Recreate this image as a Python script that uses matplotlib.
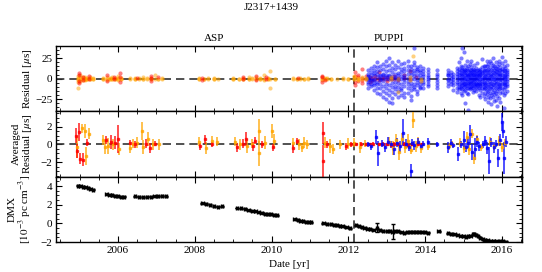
import matplotlib
matplotlib.use("Agg")
import matplotlib.pyplot as plt
import numpy as np
from matplotlib.ticker import AutoMinorLocator, MultipleLocator
from matplotlib.transforms import blended_transform_factory

plt.rcParams["font.family"] = ["Liberation Serif", "DejaVu Serif"]
plt.rcParams["mathtext.fontset"] = "stix"
plt.rcParams["font.size"] = 8
plt.rcParams["axes.unicode_minus"] = True

ORANGE = "#FFA500"
RED = "#FF0000"
BLUE = "#0000FF"

# ---- top panel: raw residuals (us), per epoch ----
asp_l_epochs = [2004.96, 2005.02, 2005.08, 2005.14, 2005.2, 2005.27, 2005.35,
                2005.62, 2005.7, 2005.78, 2005.85, 2005.92, 2006.0, 2006.08,
                2006.3, 2006.45, 2006.55, 2006.65, 2006.75, 2006.85, 2006.95, 2007.05, 2007.15,
                2008.1, 2008.25, 2008.35, 2008.5, 2008.6,
                2009.0, 2009.15, 2009.25, 2009.4, 2009.5, 2009.6, 2009.7, 2009.8, 2009.9, 2009.97, 2010.08,
                2010.55, 2010.65, 2010.75, 2010.85, 2010.95,
                2011.3, 2011.38, 2011.45, 2011.55, 2011.7, 2011.85, 2012.0]
asp_l_res = [[0, -2, 3, -4, 1, -12], [-1, 2, -3, 0, 4], [1, -2, 0, 2], [0, -1, 2, -2],
             [1, 0, -1], [0, 2, -1, 1], [0, -1, 1],
             [0, 1, -1], [0, -2, 2], [1, -1, 0], [0, 2, -1], [-1, 1, 0], [0, 1, -2, 3], [0, -1, 1],
             [0, 1], [0, -1, 1], [1, 0], [0, -1, 2], [0, 1], [-1, 0, 1], [0, 5], [0, -1], [0, 1],
             [0, 1, -1], [0, -1], [1, 0], [0, -1, 1], [0],
             [0, 1, -1], [0, -1], [1, 0, -1], [0, 2, -1], [0, 1], [-1, 0, 2], [0, 1, -1],
             [0, 4, -2], [1, -1, 0], [0, 9, -12], [0, -1],
             [0, 1], [-1, 0], [0, 1], [0, -1], [0, 1],
             [0, 2, -2], [1, -1, 0], [0, 1], [0, -1], [0], [0, 1], [0, -1]]

asp_r_epochs = [2004.98, 2005.1, 2005.25, 2005.7, 2005.9, 2006.05, 2006.5, 2006.85, 2007.05,
                2008.2, 2009.25, 2009.6, 2009.85, 2010.7, 2011.32, 2011.4]
asp_r_res = [[4, -3, 7, -5], [2, -2], [3, -1], [4, -3], [2, -1], [7, -4, 2], [1], [3, -3, 1], [2],
             [-2, 1], [0, 2], [3, -2], [-1, 2], [1], [3, -4, 2], [-2]]

puppi_r_epochs = [2012.17, 2012.25, 2012.35, 2012.45, 2012.55, 2012.62, 2012.7, 2012.8, 2012.9,
                  2013.0, 2013.1, 2013.2, 2013.3, 2013.45, 2013.6, 2013.75]
puppi_r_res = [[3, -4, 8, -8], [2, -3, 5], [1, -2, 12, -5], [3, -1], [2, -4], [-2, 1], [0, 3],
               [1, -2, 8], [-1, 2], [0, 2, -3], [1, -1], [0, 3], [-2, 1], [1, 5], [-1, 9], [2]]

puppi_o_epochs = [2012.15, 2012.25, 2012.35, 2012.45, 2013.1, 2013.3, 2013.6, 2013.68, 2013.9]
puppi_o_res = [[0, 2, -1, 3], [1, -2, 0], [0, 2], [-1, 1], [-1, 2], [-16, 0], [2, -2], [28], [0, -3]]

puppi_l_epochs = [2012.5, 2012.58, 2012.66, 2012.74, 2012.82, 2012.9, 2012.98, 2013.06, 2013.14,
                  2013.22, 2013.3, 2013.38, 2013.46, 2013.54, 2013.62, 2013.7, 2013.78, 2013.86,
                  2013.94, 2014.07, 2014.31, 2014.6, 2014.66, 2014.72,
                  2014.84, 2014.88, 2014.92, 2014.96, 2015.0, 2015.04, 2015.08, 2015.12, 2015.16,
                  2015.2, 2015.24, 2015.28, 2015.32, 2015.36, 2015.4, 2015.44, 2015.48, 2015.52,
                  2015.56, 2015.6, 2015.64, 2015.68, 2015.72, 2015.76, 2015.8, 2015.84, 2015.88,
                  2015.92, 2015.96, 2016.0, 2016.04, 2016.08, 2016.12]
puppi_l_res = [
    [0, 3, -4, 6, -7, 10, -12, 2, -1],
    [1, -3, 5, -6, 8, -9, 13, -2],
    [0, -5, 7, -8, 11, -14, 4, -2, 15],
    [2, -4, 9, -11, 14, -17, 20, -6, 6],
    [0, 5, -7, 10, -12, 16, -19, -2, 3],
    [1, -3, 6, -9, 12, -15, 18, -22, 4],
    [0, 4, -6, 9, -12, 15, -18, 22, -25, 2],
    [-1, 5, -8, 11, -14, 17, -20, 25, -28, 3],
    [0, 3, -5, 8, -10, 13, -16, 20, -24, -30],
    [1, -4, 6, -9, 12, -13, 17, -19, 2],
    [0, 4, -5, 7, -10, 14, -15, 21, -22, -1],
    [-1, 3, -6, 8, -11, 12, -14, 18, -20],
    [0, 5, -4, 9, -9, 13, -17, 19, -23, 2],
    [1, -3, 6, -7, 10, -12, 15, -18, 22],
    [0, 4, -5, 8, -9, 12, -14, 16, -21, -26],
    [-1, 3, -6, 7, -10, 11, -13, 17, 20, 38],
    [0, 5, -4, 9, -8, 12, -15, 14, -19],
    [1, -3, 4, -6, 8, -10, 11, -12, 16],
    [0, 3, -4, 6, -7, 9, -11, 13],
    [0, 2, -3, 5, -6, 8, -9, 12],
    [0, 3, -4, 6, -8, 10, -12],
    [0, -2, 4, -5, 7, -9, 10, 5],
    [1, -3, 5, -7, 8],
    [0, 2, -4, 6, -8, -14],
    [0, 3, -4, 6, -7, 9, -11, 13, -16],
    [1, -2, 5, -6, 8, -10, 12, -13, 20],
    [0, 4, -5, 7, -9, 10, -12, 15, -18, 25],
    [-1, 3, -4, 6, -8, 11, -13, 14, -20, 38],
    [0, 2, -5, 7, -7, 9, -10, 12, -15, 33],
    [1, -3, 4, -6, 8, -9, 11, -14, 17, -30],
    [0, 4, -3, 6, -8, 10, -11, 13, -17, 21],
    [-1, 3, -5, 5, -7, 9, -12, 15, -19, -38],
    [0, 2, -4, 6, -6, 8, -10, 11, -13, 18],
    [1, -3, 5, -5, 7, -9, 10, -12, 14, 22],
    [0, 4, -4, 6, -8, 9, -11, 12, -16],
    [-1, 2, -3, 5, -7, 8, -9, 10, -14, 17],
    [0, 3, -5, 6, -6, 9, -10, 13, -15],
    [1, -2, 4, -7, 7, -8, 11, -12, 19],
    [0, 3, -4, 5, -6, 8, -11, 10, -20],
    [-1, 4, -5, 6, -8, 9, -9, 12, -14, -22],
    [0, 2, -3, 7, -7, 8, -12, 14, -17, 24],
    [1, -4, 5, -6, 9, -10, 11, -13, 16, -21],
    [0, 3, -5, 6, -8, 10, -11, 15, -18, -25],
    [-1, 2, -4, 7, -9, 11, -14, 16, -19, 22],
    [0, 4, -6, 8, -10, 12, -15, 18, -22, -28],
    [1, -3, 5, -7, 9, -12, 14, -17, 21, -24],
    [0, 3, -5, 6, -9, 11, -13, 19, -20, -31],
    [-1, 4, -6, 8, -10, 13, -16, 17, -23, 25],
    [0, 2, -4, 7, -8, 10, -14, 15, -19, -27],
    [1, -3, 6, -7, 9, -11, 13, -18, 20, -26],
    [0, 4, -5, 8, -10, 12, -15, 16, -21, -33],
    [-1, 3, -6, 7, -9, 11, -13, 18, -24, 22],
    [0, 5, -4, 6, -8, 10, -12, 14, -17, -29],
    [1, -2, 4, -6, 9, -11, 12, -16, 19, 26],
    [0, 3, -5, 7, -7, 10, -13, 15, -20, -36],
    [-1, 2, -4, 5, -8, 9, -10, 13, -18, 21],
    [0, 3, -3, 6, -6, 8, -9, 11, -15, 17],
]

# ---- middle panel: epoch-averaged residuals (us) ----
avg_o_t = [2004.94, 2005.05, 2005.14, 2005.17, 2005.25, 2005.6, 2005.65, 2005.75, 2005.86, 2006.03,
           2006.31, 2006.4, 2006.49, 2006.62, 2006.66, 2006.79, 2006.9, 2007.08,
           2008.12, 2008.29, 2008.44, 2008.57,
           2009.05, 2009.18, 2009.37, 2009.48, 2009.66, 2009.68, 2009.83, 2010.0, 2010.06,
           2010.55, 2010.72, 2010.78, 2010.84, 2010.93,
           2011.39, 2011.52, 2011.59, 2011.78, 2012.0,
           2012.15, 2012.3, 2012.42, 2013.05, 2013.15, 2013.25, 2013.32, 2013.4, 2013.48,
           2013.55, 2013.62, 2013.68, 2013.75, 2013.82, 2013.9, 2014.07, 2014.62, 2014.7,
           2014.9, 2015.0, 2015.1, 2015.15, 2015.22, 2015.28, 2015.35, 2015.45, 2015.7,
           2015.8, 2015.92, 2016.0, 2016.08]
avg_o_v = [-0.3, 1.8, 1.5, -1.3, 1.2, 0.5, -0.3, -0.2, 0.0, -0.5,
           -0.4, 0.1, 0.2, 1.5, -0.3, 0.6, 0.0, 0.0,
           0.3, -0.4, 0.4, 0.3,
           0.3, 0.0, -0.2, 0.1, 1.5, -1.0, 0.2, 1.5, 0.4,
           0.2, 0.0, -0.3, 0.2, 0.0,
           0.2, -0.2, -0.5, 0.0, 0.1,
           0.2, -0.3, 0.1, 0.3, -0.4, 0.5, -0.8, 0.6, -0.3,
           0.4, -0.6, 2.7, -0.2, 0.3, -0.4, -0.2, -0.2, 0.1,
           0.2, -0.4, 0.8, -0.5, 1.2, -1.5, 0.6, -0.3, 0.3,
           -0.2, 0.4, -0.3, 0.2]
avg_o_e = [1.2, 0.5, 0.8, 1.0, 0.6, 0.6, 0.8, 0.9, 0.6, 0.7,
           0.6, 0.5, 0.6, 1.0, 0.8, 0.8, 0.6, 0.6,
           0.5, 0.7, 0.6, 0.5,
           0.5, 0.6, 0.8, 0.5, 1.3, 1.4, 0.7, 0.8, 0.8,
           0.5, 0.6, 0.5, 0.6, 0.5,
           0.6, 0.8, 0.6, 0.5, 0.6,
           0.5, 0.6, 0.4, 0.5, 0.8, 0.7, 0.9, 0.7, 0.6,
           0.8, 0.5, 0.9, 0.6, 0.5, 0.6, 0.4, 0.4, 0.3,
           0.5, 0.6, 0.6, 0.7, 0.5, 0.7, 0.5, 0.4, 0.5,
           0.4, 0.6, 0.5, 0.4]

avg_r_t = [2004.9, 2004.92, 2004.98, 2005.0, 2005.09, 2005.18,
           2005.69, 2005.81, 2005.92, 2006.0,
           2006.3, 2006.44, 2006.74, 2006.83, 2006.96,
           2008.13, 2008.26, 2008.46,
           2009.09, 2009.25, 2009.33, 2009.52, 2009.57, 2009.74, 2010.03,
           2010.57, 2010.65,
           2011.33, 2011.34, 2011.43, 2011.95,
           2012.08, 2012.2, 2012.33, 2012.45, 2012.55, 2012.65, 2012.8, 2012.9, 2013.0,
           2013.1, 2013.2, 2013.3, 2013.45, 2013.55, 2013.65, 2013.8, 2013.92]
avg_r_v = [1.0, -0.7, 1.4, -1.6, -1.7, 0.2,
           0.5, 0.3, 0.2, 0.6,
           0.2, 0.0, 0.1, -0.4, 0.1,
           -0.2, 0.6, 0.0,
           -0.3, 0.1, 0.6, -0.2, 0.4, 0.0, -0.3,
           -0.4, 0.4,
           1.3, -1.9, 0.0, -0.2,
           0.0, 0.0, 0.05, 0.0, 0.0, 0.05, 0.0, 0.1, 0.0,
           -0.05, 0.05, 0.0, 0.05, -0.05, 0.0, 0.05, 0.0]
avg_r_e = [0.8, 0.8, 1.0, 0.6, 0.7, 0.4,
           0.5, 0.8, 0.7, 1.6,
           0.3, 0.4, 0.5, 0.6, 0.3,
           0.4, 0.5, 0.3,
           0.5, 0.5, 0.8, 0.5, 0.4, 0.4, 0.4,
           0.5, 0.3,
           1.2, 1.8, 0.4, 0.4,
           0.3, 0.2, 0.2, 0.2, 0.15, 0.2, 0.2, 0.2, 0.2,
           0.15, 0.2, 0.2, 0.2, 0.2, 0.15, 0.2, 0.2]

avg_b_t = [2012.5, 2012.6, 2012.72, 2012.76, 2012.88, 2012.95, 2013.02, 2013.1, 2013.18, 2013.26,
           2013.34, 2013.42, 2013.5, 2013.58, 2013.62, 2013.66, 2013.72, 2013.8, 2013.88, 2013.95,
           2014.07, 2014.31, 2014.6, 2014.66, 2014.72, 2014.86, 2014.92, 2015.0, 2015.05, 2015.12,
           2015.18, 2015.22, 2015.3, 2015.35, 2015.4, 2015.5, 2015.56, 2015.62, 2015.66, 2015.72,
           2015.78, 2015.84, 2015.9, 2015.95, 2016.0, 2016.03, 2016.06, 2016.1]
avg_b_v = [0.0, -0.2, 0.8, -1.0, 0.1, -0.3, 0.3, 0.0, -0.5, 0.2,
           -0.2, 1.3, 0.1, -0.3, -3.0, 0.2, -0.1, 0.3, -0.2, 0.1,
           0.3, 0.0, -0.3, 0.2, -0.1, -1.1, 0.0, 0.5, -0.3, 0.2,
           1.2, -0.8, -0.5, 0.3, -0.2, 0.0, 0.4, -0.4, -1.8, 0.2,
           -0.3, 0.1, -1.5, 0.5, 2.5, 1.5, -1.5, 0.3]
avg_b_e = [0.3, 0.4, 0.8, 1.4, 0.4, 0.5, 0.5, 0.4, 0.7, 0.5,
           0.6, 1.5, 0.5, 0.4, 0.8, 0.4, 0.5, 0.4, 0.3, 0.3,
           0.4, 0.3, 0.6, 0.4, 0.3, 0.8, 0.4, 1.0, 0.5, 0.6,
           1.0, 0.9, 1.2, 0.6, 0.5, 0.4, 0.6, 0.7, 1.5, 0.5,
           0.6, 0.4, 1.0, 0.7, 1.0, 0.8, 1.8, 0.6]

# ---- bottom panel: DMX (1e-3 pc cm^-3) ----
dmx_t = [2004.95, 2005.02, 2005.08, 2005.15, 2005.22, 2005.28, 2005.35,
         2005.7, 2005.78, 2005.85, 2005.92, 2006.0, 2006.08, 2006.15,
         2006.45, 2006.55, 2006.65, 2006.75, 2006.85, 2006.95, 2007.05, 2007.15, 2007.25,
         2008.2, 2008.3, 2008.4, 2008.5, 2008.6, 2008.7,
         2009.1, 2009.2, 2009.3, 2009.4, 2009.5, 2009.58, 2009.66, 2009.74, 2009.82, 2009.9, 2009.98, 2010.06, 2010.14,
         2010.6, 2010.68, 2010.75, 2010.82, 2010.9, 2010.97, 2011.03,
         2011.35, 2011.45, 2011.55, 2011.62, 2011.7, 2011.78, 2011.85, 2011.95, 2012.05,
         2012.2, 2012.27, 2012.35, 2012.42, 2012.5, 2012.57, 2012.65, 2012.75, 2012.82, 2012.9,
         2013.0, 2013.08, 2013.15, 2013.22, 2013.3, 2013.38, 2013.45, 2013.52, 2013.6, 2013.68,
         2013.76, 2013.84, 2013.92, 2014.0, 2014.08,
         2014.35,
         2014.6, 2014.68, 2014.76, 2014.84, 2014.92, 2015.0, 2015.06, 2015.12, 2015.18, 2015.24,
         2015.28, 2015.33, 2015.38, 2015.43, 2015.5, 2015.56, 2015.62, 2015.7, 2015.78, 2015.86,
         2015.94, 2016.02, 2016.1]
dmx_v = [4.05, 4.02, 3.95, 3.85, 3.8, 3.72, 3.6,
         3.1, 3.05, 3.0, 2.95, 2.9, 2.88, 2.88,
         2.9, 2.85, 2.82, 2.85, 2.88, 2.9, 2.92, 2.95, 2.93,
         2.15, 2.1, 2.0, 1.85, 1.8, 1.82,
         1.65, 1.6, 1.55, 1.42, 1.35, 1.28, 1.2, 1.12, 1.05, 1.0, 0.97, 0.92, 0.85,
         0.42, 0.38, 0.3, 0.22, 0.18, 0.15, 0.1,
         0.0, -0.05, -0.1, -0.15, -0.2, -0.25, -0.3, -0.4, -0.5,
         -0.2, -0.3, -0.4, -0.45, -0.55, -0.6, -0.68, -0.45, -0.75, -0.8,
         -0.85, -0.8, -0.9, -0.85, -0.85, -0.95, -1.0, -0.95, -0.9, -0.9,
         -0.88, -0.9, -0.92, -0.95, -0.98,
         -0.85,
         -1.05, -1.1, -1.15, -1.22, -1.3, -1.38, -1.45, -1.4, -1.3, -1.15,
         -1.1, -1.2, -1.35, -1.55, -1.7, -1.78, -1.82, -1.85, -1.88, -1.9,
         -1.9, -1.92, -1.97]
dmx_e = [0.05] * 65 + [0.5] + [0.05] * 4 + [0.8] + [0.05] * 41

dmx_t, dmx_v = np.array(dmx_t), np.array(dmx_v)
dmx_e = np.array(dmx_e[:len(dmx_t)])

BOUNDARY = 2012.15


def flatten(epochs, res):
    t = [e for e, r in zip(epochs, res) for _ in r]
    v = [x for r in res for x in r]
    return t, v


def style_axis(ax):
    ax.tick_params(which="both", direction="in", top=True, right=True, labelsize=8, pad=2.5)
    ax.tick_params(which="major", length=4)
    ax.tick_params(which="minor", length=2)
    ax.xaxis.set_major_locator(MultipleLocator(2))
    ax.xaxis.set_minor_locator(MultipleLocator(0.5))
    ax.yaxis.set_minor_locator(AutoMinorLocator())
    ax.axvline(BOUNDARY, color="#333333", ls=(0, (5, 3)), lw=1.2, zorder=1)


fig, axes = plt.subplots(3, 1, figsize=(5.42, 2.72), dpi=100, sharex=True)
fig.subplots_adjust(left=0.103, right=0.963, top=0.831, bottom=0.110, hspace=0)
ax_res, ax_avg, ax_dmx = axes

# top: residuals
for epochs, res, color in [(asp_l_epochs, asp_l_res, ORANGE), (asp_r_epochs, asp_r_res, RED),
                           (puppi_r_epochs, puppi_r_res, RED), (puppi_l_epochs, puppi_l_res, BLUE),
                           (puppi_o_epochs, puppi_o_res, ORANGE)]:
    t, v = flatten(epochs, res)
    ax_res.plot(t, v, "o", ms=3, color=color, alpha=0.5, mec="none", zorder=3)
ax_res.axhline(0, color="#333333", ls=(0, (5, 3)), lw=1.2, zorder=2)
ax_res.set_ylim(-40, 40)
ax_res.yaxis.set_major_locator(MultipleLocator(25))
ax_res.set_ylabel(r"Residual [$\mu$s]")

# middle: averaged residuals
for t, v, e, color in [(avg_o_t, avg_o_v, avg_o_e, ORANGE), (avg_r_t, avg_r_v, avg_r_e, RED),
                       (avg_b_t, avg_b_v, avg_b_e, BLUE)]:
    ax_avg.errorbar(t, v, yerr=e, fmt="s", ms=2, color=color, ecolor=color,
                    elinewidth=1.3, alpha=0.75, capsize=0, zorder=3)
ax_avg.axhline(0, color="#333333", ls=(0, (5, 3)), lw=1.2, zorder=2)
ax_avg.set_ylim(-3.6, 3.7)
ax_avg.yaxis.set_major_locator(MultipleLocator(2))
ax_avg.set_ylabel("Averaged\n" + r"Residual [$\mu$s]", linespacing=1.0)

# bottom: DMX
ax_dmx.errorbar(dmx_t, dmx_v, yerr=dmx_e, xerr=0.03, fmt="o", ms=1.5, color="black",
                elinewidth=1, capsize=1.5, zorder=3)
ax_dmx.set_ylim(-2, 5)
ax_dmx.yaxis.set_major_locator(MultipleLocator(2))
ax_dmx.set_ylabel("DMX\n" + r"[$10^{-3}$ pc cm$^{-3}$]", linespacing=1.0)
ax_dmx.set_xlabel("Date [yr]")
ax_dmx.set_xlim(2004.38, 2016.52)

for ax in axes:
    style_axis(ax)
    ax.yaxis.set_label_coords(-0.047, 0.5)
    for sp in ax.spines.values():
        sp.set_linewidth(1.0)

trans = blended_transform_factory(ax_res.transData, ax_res.transAxes)
ax_res.text(2008.5, 1.05, "ASP", transform=trans, ha="center", va="bottom", fontsize=8)
ax_res.text(2013.06, 1.05, "PUPPI", transform=trans, ha="center", va="bottom", fontsize=8)
fig.suptitle("J2317+1439", y=0.99, fontsize=8)

fig.savefig("out.png", dpi=100)
